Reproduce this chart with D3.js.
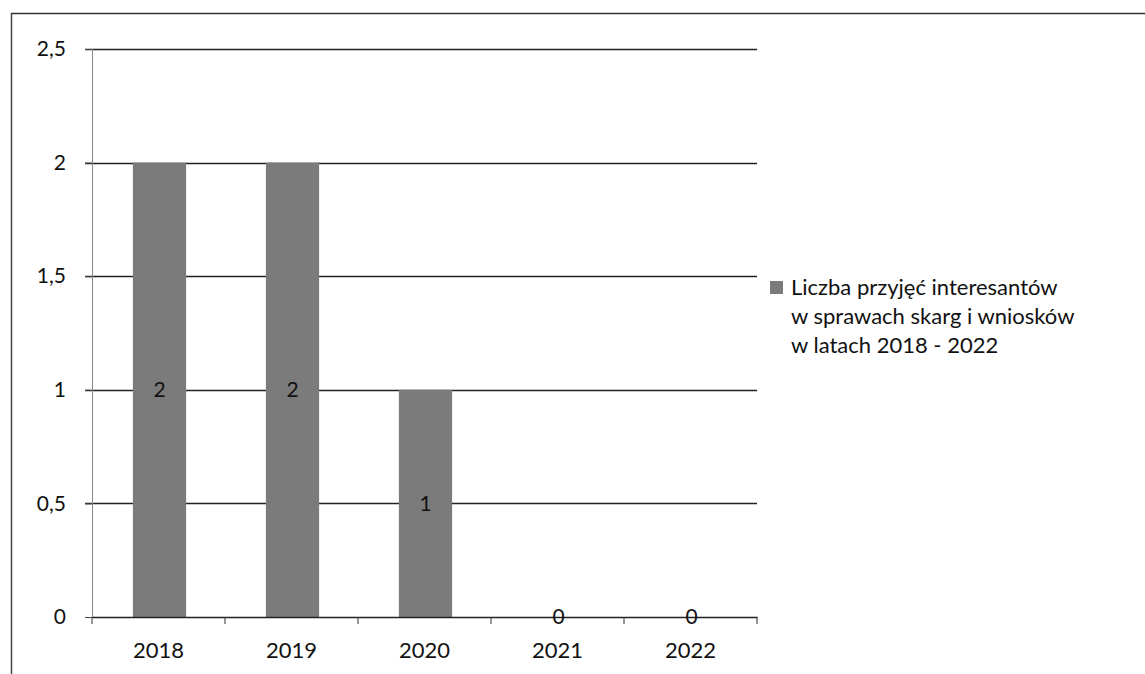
<!DOCTYPE html>
<html>
<head>
<meta charset="utf-8">
<script src="https://cdn.jsdelivr.net/npm/d3@7"></script>
<style>
  body { margin: 0; background: #fff; }
  text { font-family: Lato, "Open Sans", sans-serif; fill: #111; }
</style>
</head>
<body>
<div id="main"></div>
<script>
// chart data
const years = ["2018", "2019", "2020", "2021", "2022"];
const counts = [2, 2, 1, 0, 0];
const yTicks = [0, 0.5, 1, 1.5, 2, 2.5];
const legendLines = ["Liczba przyjęć interesantów", "w sprawach skarg i wniosków", "w latach 2018 - 2022"];

const W = 1145, H = 674;
const plot = {left: 92, right: 757, top: 49, bottom: 617};

const svg = d3.select("#main").append("svg")
  .attr("width", W)
  .attr("height", H);

// outer frame (top + left edges visible in the scan)
svg.append("line").attr("x1", 11).attr("x2", W).attr("y1", 13.5).attr("y2", 13.5)
  .attr("stroke", "#333").attr("stroke-width", 1.5);
svg.append("line").attr("x1", 11.5).attr("x2", 11.5).attr("y1", 13).attr("y2", H)
  .attr("stroke", "#444").attr("stroke-width", 1.5);

const x = d3.scaleBand().domain(years).range([plot.left, plot.right]).paddingInner(0.6).paddingOuter(0.3);
const xCat = d3.scaleBand().domain(years).range([plot.left, plot.right]);
const y = d3.scaleLinear().domain([0, 2.5]).range([plot.bottom, plot.top]);

const fmt = d => String(d).replace(".", ",");

// gridlines
svg.append("g").selectAll("line").data(yTicks.filter(d => d > 0)).join("line")
  .attr("x1", plot.left - 7).attr("x2", plot.right)
  .attr("y1", d => Math.round(y(d)) + 0.5).attr("y2", d => Math.round(y(d)) + 0.5)
  .attr("stroke", "#222").attr("stroke-width", 1.3);

// bars
svg.append("g").selectAll("rect").data(counts).join("rect")
  .attr("x", (d, i) => x(years[i]) + 1)
  .attr("width", x.bandwidth())
  .attr("y", d => y(d))
  .attr("height", d => y(0) - y(d))
  .attr("fill", "#7b7b7b");

// y axis
const yAxis = svg.append("g")
  .attr("transform", `translate(${plot.left},0)`)
  .call(d3.axisLeft(y).tickValues(yTicks).tickFormat(fmt).tickSize(7).tickPadding(19));
yAxis.select(".domain").attr("stroke", "#888");
yAxis.selectAll(".tick line").attr("stroke", "#444");
yAxis.selectAll("text").style("font-size", "21px").attr("fill", "#111");

// x axis
const xAxis = svg.append("g")
  .attr("transform", `translate(0,${plot.bottom})`)
  .call(d3.axisBottom(xCat).tickSize(0).tickPadding(25));
xAxis.select(".domain").attr("stroke", "#222").attr("stroke-width", 1.3);
xAxis.selectAll("text").style("font-size", "22px").attr("fill", "#111");
// category boundary ticks
svg.append("g").selectAll("line").data(years.concat(["end"])).join("line")
  .attr("x1", (d, i) => i < years.length ? xCat(d) : plot.right)
  .attr("x2", (d, i) => i < years.length ? xCat(d) : plot.right)
  .attr("y1", plot.bottom).attr("y2", plot.bottom + 7)
  .attr("stroke", "#333");

// data labels
svg.append("g").selectAll("text").data(counts).join("text")
  .attr("x", (d, i) => xCat(years[i]) + xCat.bandwidth() / 2 + 1)
  .attr("y", d => y(d / 2))
  .attr("dy", "0.35em")
  .attr("text-anchor", "middle")
  .style("font-size", "21px")
  .text(d => d);

// legend
const lg = svg.append("g").attr("transform", "translate(770,281)");
lg.append("rect").attr("width", 13).attr("height", 13).attr("fill", "#7b7b7b");
lg.selectAll("text").data(legendLines).join("text")
  .attr("x", 21)
  .attr("y", (d, i) => 14 + i * 29)
  .style("font-size", "22px")
  .text(d => d);
</script>
</body>
</html>
